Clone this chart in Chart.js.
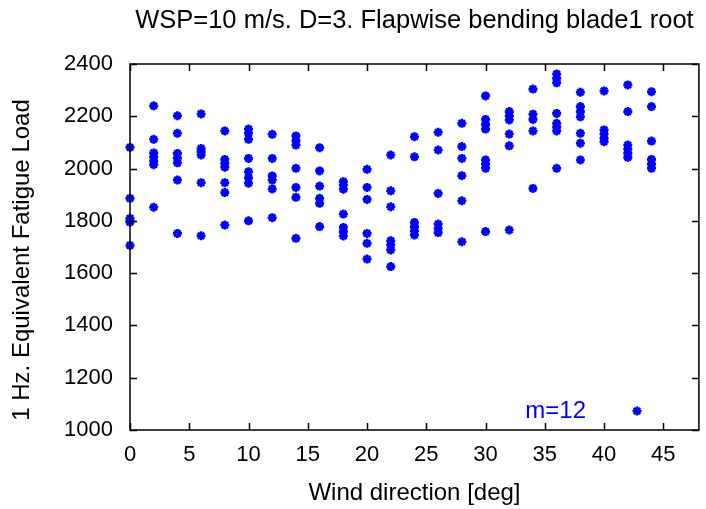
<!DOCTYPE html>
<html><head><meta charset="utf-8">
<script src="https://cdn.jsdelivr.net/npm/chart.js@4.4.0/dist/chart.umd.min.js"></script>
<style>html,body{margin:0;padding:0;background:#fff}#wrap{width:706px;height:509px}</style>
</head><body><div id="wrap"><canvas id="c" width="706" height="509"></canvas></div>
<script>
const chartTitle = 'WSP=10 m/s. D=3. Flapwise bending blade1 root';
const xAxisLabel = 'Wind direction [deg]';
const yAxisLabel = '1 Hz. Equivalent Fatigue Load';
const seriesLabel = 'm=12';
const xTickValues = [0,5,10,15,20,25,30,35,40,45];
const yTickValues = [1000,1200,1400,1600,1800,2000,2200,2400];

const directions = [0,2,4,6,8,10,12,14,16,18,20,22,24,26,28,30,32,34,36,38,40,42,44];
const loadsDir0  = [2081,1886,1810,1800,1795,1706];
const loadsDir2  = [2240,2112,2060,2045,2030,2015,1852];
const loadsDir4  = [2202,2135,2058,2040,2022,1956,1752];
const loadsDir6  = [2209,2077,2065,2052,1946,1743];
const loadsDir8  = [2144,2035,2020,2005,1946,1908,1784];
const loadsDir10 = [2151,2135,2112,2039,1988,1965,1944,1800];
const loadsDir12 = [2131,2039,1972,1956,1922,1812];
const loadsDir14 = [2125,2107,2090,2001,1928,1890,1733];
const loadsDir16 = [2080,1991,1933,1886,1867,1778];
const loadsDir18 = [1950,1937,1921,1826,1775,1759,1742];
const loadsDir20 = [1997,1928,1882,1752,1714,1654];
const loadsDir22 = [2052,1915,1854,1724,1708,1689,1625];
const loadsDir24 = [2122,2045,1794,1778,1762,1746];
const loadsDir26 = [2139,2071,1905,1788,1771,1755];
const loadsDir28 = [2173,2084,2039,1973,1877,1720];
const loadsDir30 = [2278,2188,2169,2151,2033,2017,2001,1759];
const loadsDir32 = [2218,2201,2186,2132,2087,1765];
const loadsDir34 = [2304,2208,2188,2144,1924];
const loadsDir36 = [2362,2345,2328,2211,2173,2158,2144,2001];
const loadsDir38 = [2292,2237,2218,2198,2135,2097,2033];
const loadsDir40 = [2297,2148,2132,2116,2103];
const loadsDir42 = [2320,2218,2090,2074,2058,2043];
const loadsDir44 = [2294,2237,2105,2035,2017,2001];

const loadsByDir = [loadsDir0,loadsDir2,loadsDir4,loadsDir6,loadsDir8,loadsDir10,loadsDir12,
  loadsDir14,loadsDir16,loadsDir18,loadsDir20,loadsDir22,loadsDir24,loadsDir26,loadsDir28,
  loadsDir30,loadsDir32,loadsDir34,loadsDir36,loadsDir38,loadsDir40,loadsDir42,loadsDir44];

const points = [];
directions.forEach((d, i) => loadsByDir[i].forEach(v => points.push({x: d, y: v})));

const FONT = '"Liberation Sans", Arial, Helvetica, sans-serif';
const FS_TICK = 22;
const FS_TITLE = 25.5;
const FS_LABEL = 24;
const BLUE = '#0000ff';
const POINT_STYLE = {pointStyle: 'star', radius: 4.5, borderWidth: 2.6, rotation: 0};

const framePlugin = {
  id: 'frame',
  afterDraw(chart) {
    const {ctx, chartArea: a, scales} = chart;
    ctx.save();
    ctx.strokeStyle = '#000';
    ctx.lineWidth = 1.5;
    ctx.strokeRect(a.left, a.top, a.right - a.left, a.bottom - a.top);
    const tl = 7;
    ctx.beginPath();
    xTickValues.forEach(v => {
      const px = Math.round(scales.x.getPixelForValue(v)) + 0.5;
      ctx.moveTo(px, a.bottom); ctx.lineTo(px, a.bottom - tl);
      ctx.moveTo(px, a.top); ctx.lineTo(px, a.top + tl);
    });
    yTickValues.forEach(v => {
      const py = Math.round(scales.y.getPixelForValue(v)) + 0.5;
      ctx.moveTo(a.left, py); ctx.lineTo(a.left + tl, py);
      ctx.moveTo(a.right, py); ctx.lineTo(a.right - tl, py);
    });
    ctx.stroke();
    ctx.fillStyle = '#000';
    ctx.textAlign = 'center';
    ctx.textBaseline = 'middle';
    ctx.font = FS_TITLE + 'px ' + FONT;
    ctx.fillText(chartTitle, (a.left + a.right) / 2, 21);
    ctx.font = FS_LABEL + 'px ' + FONT;
    ctx.fillText(xAxisLabel, (a.left + a.right) / 2, 493);
    ctx.save();
    ctx.translate(22, 260);
    ctx.rotate(-Math.PI / 2);
    ctx.fillText(yAxisLabel, 0, 0);
    ctx.restore();
    ctx.fillStyle = BLUE;
    ctx.strokeStyle = BLUE;
    ctx.textAlign = 'right';
    ctx.font = FS_LABEL + 'px ' + FONT;
    ctx.fillText(seriesLabel, 586, 411);
    ctx.lineWidth = POINT_STYLE.borderWidth;
    Chart.helpers.drawPoint(ctx, POINT_STYLE, 637, 411);
    ctx.restore();
  }
};

new Chart(document.getElementById('c'), {
  type: 'scatter',
  data: { datasets: [{
    label: seriesLabel,
    data: points,
    clip: false,
    pointStyle: POINT_STYLE.pointStyle,
    pointRadius: POINT_STYLE.radius,
    pointBorderWidth: POINT_STYLE.borderWidth,
    borderColor: BLUE,
    backgroundColor: BLUE,
    pointHoverRadius: POINT_STYLE.radius
  }]},
  options: {
    responsive: false,
    animation: false,
    devicePixelRatio: 1,
    layout: { padding: { top: 64, right: 5, left: 0, bottom: 0 } },
    plugins: { legend: { display: false }, tooltip: { enabled: false }, title: { display: false } },
    scales: {
      x: {
        type: 'linear', min: 0, max: 48,
        afterFit(s) { s.height = 79; },
        afterBuildTicks(s) { s.ticks = xTickValues.map(v => ({value: v})); },
        grid: { display: false, drawTicks: false },
        border: { display: false },
        ticks: { color: '#000', font: { family: FONT, size: FS_TICK }, padding: 12, maxRotation: 0, autoSkip: false,
                 callback: v => String(v) }
      },
      y: {
        type: 'linear', min: 1000, max: 2400,
        afterFit(s) { s.width = 130; },
        afterBuildTicks(s) { s.ticks = yTickValues.map(v => ({value: v})); },
        grid: { display: false, drawTicks: false },
        border: { display: false },
        ticks: { color: '#000', font: { family: FONT, size: FS_TICK }, padding: 17, autoSkip: false,
                 callback: v => String(v) }
      }
    }
  },
  plugins: [framePlugin]
});
</script>
</body></html>
